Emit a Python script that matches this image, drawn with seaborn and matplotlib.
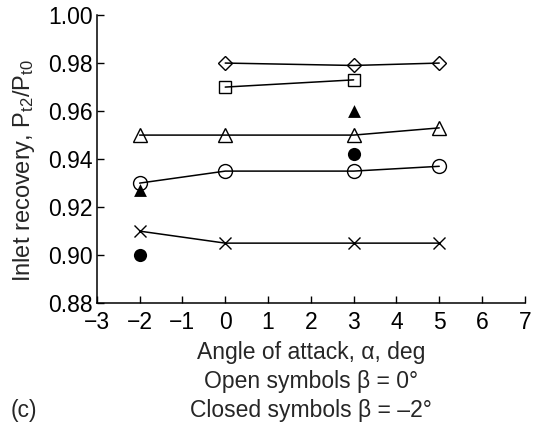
import matplotlib
matplotlib.use("Agg")
import matplotlib.pyplot as plt
import seaborn as sns
import pandas as pd

# Inlet recovery vs angle of attack, open symbols beta = 0 deg
alpha_diamond = [0, 3, 5]
rec_diamond = [0.980, 0.979, 0.980]

alpha_square = [0, 3]
rec_square = [0.970, 0.973]

alpha_triangle = [-2, 0, 3, 5]
rec_triangle = [0.950, 0.950, 0.950, 0.953]

alpha_circle = [-2, 0, 3, 5]
rec_circle = [0.930, 0.935, 0.935, 0.937]

alpha_cross = [-2, 0, 3, 5]
rec_cross = [0.910, 0.905, 0.905, 0.905]

# Closed symbols, beta = -2 deg
alpha_tri_closed = [-2, 3]
rec_tri_closed = [0.927, 0.960]

alpha_circ_closed = [-2, 3]
rec_circ_closed = [0.900, 0.942]

x_ticks = [-3, -2, -1, 0, 1, 2, 3, 4, 5, 6, 7]
y_ticks = [0.88, 0.90, 0.92, 0.94, 0.96, 0.98, 1.00]

FS = 16.5

sns.set_style("ticks")
plt.rcParams["font.family"] = ["Liberation Sans", "DejaVu Sans"]
plt.rcParams["mathtext.fontset"] = "custom"
plt.rcParams["mathtext.rm"] = "Liberation Sans"
plt.rcParams["mathtext.it"] = "Liberation Sans"

fig = plt.figure(figsize=(5.35, 4.3), dpi=100)
ax = fig.add_axes([0.181, 0.295, 0.800, 0.670])

open_series = [
    (alpha_diamond, rec_diamond, "D", 7.5),
    (alpha_square, rec_square, "s", 9),
    (alpha_triangle, rec_triangle, "^", 10),
    (alpha_circle, rec_circle, "o", 10),
    (alpha_cross, rec_cross, "x", 8.5),
]
for xs, ys, mk, ms in open_series:
    df = pd.DataFrame({"alpha": xs, "rec": ys})
    sns.lineplot(data=df, x="alpha", y="rec", ax=ax, color="black",
                 linewidth=1.1, marker=mk, markersize=ms,
                 markerfacecolor="none", markeredgecolor="black",
                 markeredgewidth=1.0)

closed_series = [
    (alpha_tri_closed, rec_tri_closed, "^", 85),
    (alpha_circ_closed, rec_circ_closed, "o", 90),
]
for xs, ys, mk, s in closed_series:
    df = pd.DataFrame({"alpha": xs, "rec": ys})
    sns.scatterplot(data=df, x="alpha", y="rec", ax=ax, color="black",
                    marker=mk, s=s, edgecolor="black", linewidth=0)

ax.set_xlim(-3, 7)
ax.set_ylim(0.88, 1.00)
ax.set_xticks(x_ticks)
ax.set_yticks(y_ticks)
ax.set_yticklabels([f"{v:.2f}" for v in y_ticks])
ax.set_xticklabels([str(v).replace("-", "\u2212") for v in x_ticks])
ax.tick_params(direction="in", length=5, width=1, labelsize=FS,
               colors="black")
ax.tick_params(axis="x", pad=5.5)
ax.tick_params(axis="y", pad=3)
for side in ("top", "right"):
    ax.spines[side].set_visible(False)
for side in ("left", "bottom"):
    ax.spines[side].set_linewidth(1.1)
    ax.spines[side].set_color("black")

ax.set_ylabel(r"Inlet recovery, P$_{\mathrm{t2}}$/P$_{\mathrm{t0}}$",
              fontsize=17)
ax.yaxis.set_label_coords(-0.140, 0.46)
ax.set_xlabel("Angle of attack, \u03b1, deg\nOpen symbols \u03b2 = 0\u00b0\n"
              "Closed symbols \u03b2 = \u20132\u00b0",
              fontsize=FS, linespacing=1.33, labelpad=5)

fig.text(0.019, 0.046, "(c)", fontsize=FS, ha="left", va="center")

fig.savefig("out.png", dpi=100)
